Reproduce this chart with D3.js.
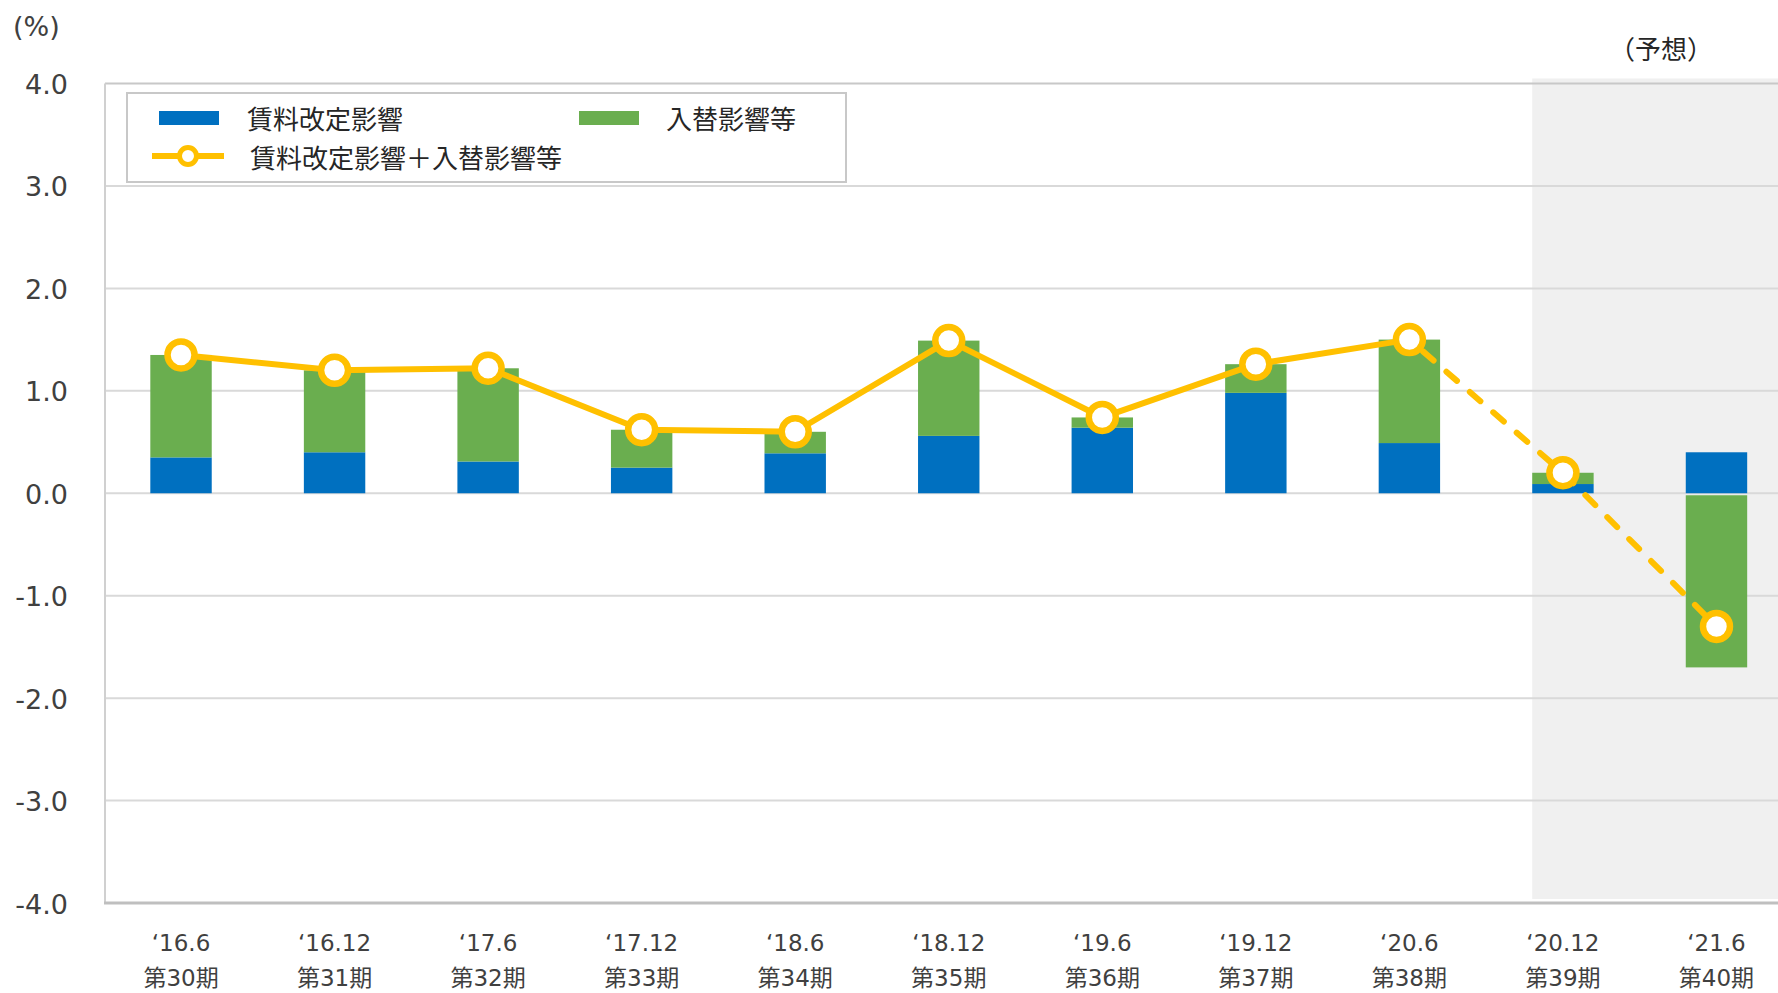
<!DOCTYPE html>
<html>
<head>
<meta charset="utf-8">
<script src="https://cdn.jsdelivr.net/npm/d3@7"></script>
<style>
  html, body { margin: 0; padding: 0; background: #fff; overflow: hidden; }
  svg { display: block; }
</style>
</head>
<body>
<svg id="chart" width="1778" height="993"></svg>
<script>
// ---- Data ----
const categories = ["‘16.6", "‘16.12", "‘17.6", "‘17.12", "‘18.6", "‘18.12", "‘19.6", "‘19.12", "‘20.6", "‘20.12", "‘21.6"];
const periods = ["第30期", "第31期", "第32期", "第33期", "第34期", "第35期", "第36期", "第37期", "第38期", "第39期", "第40期"];
const rentRevision = [0.35, 0.40, 0.31, 0.25, 0.39, 0.56, 0.64, 0.98, 0.49, 0.09, 0.40];
const replacement = [1.00, 0.80, 0.91, 0.37, 0.21, 0.93, 0.10, 0.28, 1.01, 0.11, -1.70];
const totals = [1.35, 1.20, 1.22, 0.62, 0.60, 1.49, 0.74, 1.26, 1.50, 0.20, -1.30];
const yTicks = [4, 3, 2, 1, 0, -1, -2, -3, -4];
const forecastStart = 9; // index where forecast begins
const seriesNames = ["賃料改定影響", "入替影響等", "賃料改定影響＋入替影響等"];

// ---- Styles ----
const BLUE = "#0070c0", GREEN = "#6aae4f", GOLD = "#ffc000";
const LATIN = "'DejaVu Sans', 'Noto Sans CJK JP', sans-serif";
const CJK = "'Noto Sans CJK JP', 'DejaVu Sans', sans-serif";

const svg = d3.select("#chart");

const x = d3.scaleBand().domain(categories).range([104.25, 1793.25]).padding(0);
const y = d3.scaleLinear().domain([-4, 4]).range([903, 83.5]);
const barW = x.bandwidth() * 0.4;
const cx = (c) => x(c) + x.bandwidth() / 2;
const plotLeft = 105, plotRight = 1778;

// forecast shading
const shadeX = cx(categories[forecastStart]) - barW / 2;
svg.append("rect")
  .attr("x", shadeX).attr("y", y(4) - 5)
  .attr("width", plotRight - shadeX).attr("height", y(-4) - 4 - (y(4) - 5))
  .attr("fill", "#f0f0f0");

// gridlines
svg.append("g").selectAll("line").data(yTicks.filter(d => d !== -4)).join("line")
  .attr("x1", plotLeft).attr("x2", plotRight)
  .attr("y1", d => y(d)).attr("y2", d => y(d))
  .attr("stroke", d => d === 4 ? "#c8c8c8" : "#d9d9d9")
  .attr("stroke-width", 2);

// left axis line
svg.append("line")
  .attr("x1", plotLeft).attr("x2", plotLeft)
  .attr("y1", y(4)).attr("y2", y(-4))
  .attr("stroke", "#d0d0d0").attr("stroke-width", 2);

// bottom axis line
svg.append("line")
  .attr("x1", plotLeft - 1).attr("x2", plotRight)
  .attr("y1", y(-4)).attr("y2", y(-4))
  .attr("stroke", "#bfbfbf").attr("stroke-width", 3);

// y tick labels
svg.append("g").selectAll("text").data(yTicks).join("text")
  .attr("x", 68).attr("y", d => y(d) + 1)
  .attr("text-anchor", "end").attr("dominant-baseline", "central")
  .attr("font-family", LATIN).attr("font-size", 27).attr("fill", "#404040")
  .text(d => d3.format(".1f")(d).replace("−", "-"));

// unit label
svg.append("text").attr("x", 13).attr("y", 26)
  .attr("dominant-baseline", "central")
  .attr("font-family", LATIN).attr("font-size", 27).attr("fill", "#404040")
  .text("(%)");

// forecast label
svg.append("text").attr("x", 1661).attr("y", 47)
  .attr("text-anchor", "middle").attr("dominant-baseline", "central")
  .attr("font-family", CJK).attr("font-size", 26).attr("fill", "#262626")
  .text("（予想）");

// bars
const bars = svg.append("g");
categories.forEach((c, i) => {
  const r = rentRevision[i], g = replacement[i];
  bars.append("rect")
    .attr("x", cx(c) - barW / 2).attr("width", barW)
    .attr("y", y(Math.max(0, r))).attr("height", Math.abs(y(r) - y(0)))
    .attr("fill", BLUE);
  const g0 = g >= 0 ? r : 0;
  const g1 = g0 + g;
  bars.append("rect")
    .attr("x", cx(c) - barW / 2).attr("width", barW)
    .attr("y", y(Math.max(g0, g1)) + (g < 0 ? 2 : 0))
    .attr("height", Math.abs(y(g1) - y(g0)) - (g < 0 ? 2 : 0))
    .attr("fill", GREEN);
});

// line
const pts = categories.map((c, i) => [cx(c), y(totals[i])]);
const lineGen = d3.line();
svg.append("path").attr("d", lineGen(pts.slice(0, forecastStart)))
  .attr("fill", "none").attr("stroke", GOLD).attr("stroke-width", 6)
  .attr("stroke-linejoin", "round");
svg.append("path").attr("d", lineGen(pts.slice(forecastStart - 1)))
  .attr("fill", "none").attr("stroke", GOLD).attr("stroke-width", 6)
  .attr("stroke-linecap", "round").attr("stroke-dasharray", "14 17")
  .attr("stroke-dashoffset", -18);

svg.append("g").selectAll("circle").data(pts).join("circle")
  .attr("cx", d => d[0]).attr("cy", d => d[1]).attr("r", 13.5)
  .attr("fill", "#fff").attr("stroke", GOLD).attr("stroke-width", 6.5);

// x labels
svg.append("g").selectAll("text").data(categories).join("text")
  .attr("x", d => cx(d)).attr("y", 943)
  .attr("text-anchor", "middle").attr("dominant-baseline", "central")
  .attr("font-family", LATIN).attr("font-size", 23).attr("fill", "#404040")
  .text(d => d);
svg.append("g").selectAll("text").data(periods).join("text")
  .attr("x", (d, i) => cx(categories[i])).attr("y", 978)
  .attr("text-anchor", "middle").attr("dominant-baseline", "central")
  .attr("font-family", LATIN).attr("font-size", 23).attr("fill", "#404040")
  .text(d => d);

// legend
const lg = svg.append("g");
lg.append("rect").attr("x", 127).attr("y", 93).attr("width", 719).attr("height", 89)
  .attr("fill", "#fff").attr("stroke", "#c8c8c8").attr("stroke-width", 2);
lg.append("rect").attr("x", 159).attr("y", 111).attr("width", 60).attr("height", 14).attr("fill", BLUE);
lg.append("text").attr("x", 247).attr("y", 117).attr("dominant-baseline", "central")
  .attr("font-family", CJK).attr("font-size", 26).attr("fill", "#262626").text(seriesNames[0]);
lg.append("rect").attr("x", 579).attr("y", 111).attr("width", 60).attr("height", 14).attr("fill", GREEN);
lg.append("text").attr("x", 666).attr("y", 117).attr("dominant-baseline", "central")
  .attr("font-family", CJK).attr("font-size", 26).attr("fill", "#262626").text(seriesNames[1]);
lg.append("line").attr("x1", 152).attr("x2", 224).attr("y1", 156).attr("y2", 156)
  .attr("stroke", GOLD).attr("stroke-width", 6);
lg.append("circle").attr("cx", 188).attr("cy", 156).attr("r", 8.5)
  .attr("fill", "#fff").attr("stroke", GOLD).attr("stroke-width", 5);
lg.append("text").attr("x", 250).attr("y", 156).attr("dominant-baseline", "central")
  .attr("font-family", CJK).attr("font-size", 26).attr("fill", "#262626").text(seriesNames[2]);
</script>
</body>
</html>
